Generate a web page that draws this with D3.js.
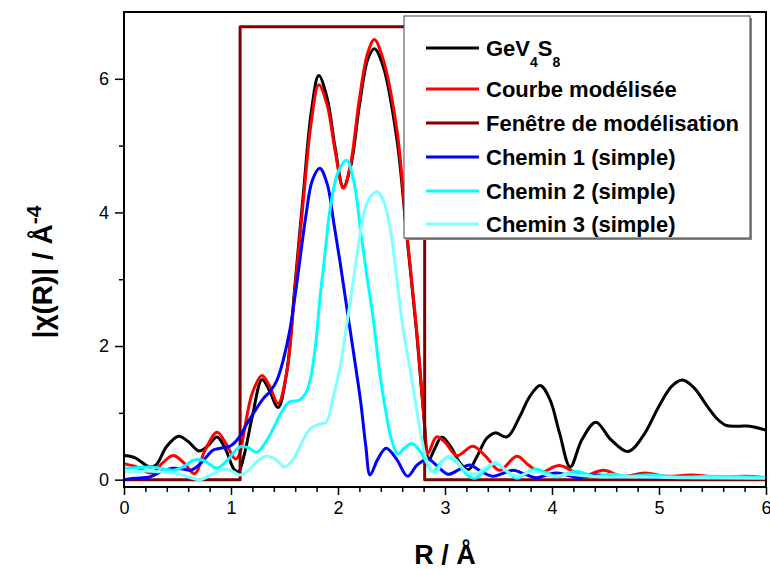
<!DOCTYPE html>
<html><head><meta charset="utf-8">
<script src="https://cdn.jsdelivr.net/npm/d3@7/dist/d3.min.js"></script>
<style>body{margin:0;background:#fff}text{font-family:"Liberation Sans",Arial,sans-serif}</style>
</head><body><svg id="c" width="770" height="572"></svg>
<script>
// ---- data ----
const xTickValues = [0, 1, 2, 3, 4, 5, 6];
const yTickValues = [0, 2, 4, 6];
const legendLabels = ["GeV4S8", "Courbe modélisée", "Fenêtre de modélisation", "Chemin 1 (simple)", "Chemin 2 (simple)", "Chemin 3 (simple)"];
const seriesColors = ["#000000", "#ff0000", "#800000", "#0000ff", "#00ffff", "#80ffff"];

const gevData = [[0,0.36],[0.1,0.33],[0.24,0.19],[0.3,0.22],[0.4,0.5],[0.51,0.65],[0.6,0.57],[0.7,0.43],[0.78,0.5],[0.87,0.64],[0.95,0.45],[1.03,0.15],[1.07,0.12],[1.12,0.35],[1.2,0.95],[1.29,1.5],[1.36,1.33],[1.44,1.08],[1.52,1.6],[1.6,2.95],[1.68,4.35],[1.75,5.5],[1.82,6.05],[1.9,5.7],[1.97,5.0],[2.05,4.38],[2.12,4.7],[2.2,5.6],[2.28,6.3],[2.34,6.45],[2.42,6.2],[2.55,5.1],[2.64,3.7],[2.735,2.2],[2.8,1.0],[2.85,0.3],[2.9,0.45],[2.97,0.64],[3.05,0.5],[3.14,0.25],[3.22,0.15],[3.3,0.35],[3.39,0.62],[3.47,0.7],[3.58,0.64],[3.7,0.95],[3.79,1.24],[3.89,1.41],[3.98,1.2],[4.07,0.7],[4.17,0.19],[4.28,0.6],[4.41,0.86],[4.55,0.6],[4.71,0.42],[4.85,0.65],[5.0,1.1],[5.12,1.4],[5.22,1.49],[5.33,1.37],[5.45,1.1],[5.55,0.9],[5.63,0.81],[5.75,0.8],[5.85,0.8],[6.0,0.74]];

const fitData = [[0,0.24],[0.1,0.2],[0.26,0.1],[0.36,0.25],[0.46,0.36],[0.56,0.25],[0.66,0.09],[0.76,0.45],[0.87,0.71],[0.96,0.52],[1.04,0.31],[1.08,0.38],[1.12,0.7],[1.2,1.3],[1.29,1.56],[1.36,1.4],[1.44,1.14],[1.52,1.6],[1.6,2.9],[1.68,4.25],[1.75,5.35],[1.82,5.91],[1.9,5.6],[1.97,4.95],[2.05,4.36],[2.12,4.75],[2.2,5.7],[2.28,6.4],[2.34,6.59],[2.42,6.3],[2.55,5.24],[2.64,3.74],[2.735,2.24],[2.8,1.0],[2.84,0.39],[2.92,0.64],[3.0,0.56],[3.11,0.36],[3.26,0.5],[3.38,0.35],[3.51,0.14],[3.67,0.35],[3.78,0.22],[3.89,0.11],[4.07,0.21],[4.29,0.06],[4.48,0.14],[4.66,0.05],[4.87,0.1],[5.07,0.05],[5.3,0.07],[5.55,0.04],[5.8,0.05],[6.0,0.03]];

const windowData = [[0,0],[1.085,0],[1.085,6.78],[2.81,6.78],[2.81,0],[6,0]];

const path1Data = [[0,0.0],[0.1,0.02],[0.24,0.04],[0.35,0.12],[0.46,0.17],[0.55,0.16],[0.62,0.14],[0.7,0.22],[0.77,0.34],[0.83,0.44],[0.9,0.47],[0.99,0.5],[1.07,0.62],[1.15,0.84],[1.22,1.02],[1.3,1.21],[1.37,1.33],[1.43,1.49],[1.49,1.8],[1.55,2.24],[1.62,3.0],[1.7,3.95],[1.76,4.48],[1.83,4.66],[1.9,4.42],[1.96,3.85],[2.02,3.25],[2.08,2.6],[2.15,1.85],[2.21,1.19],[2.26,0.5],[2.3,0.07],[2.37,0.3],[2.45,0.47],[2.55,0.3],[2.65,0.05],[2.74,0.22],[2.84,0.31],[2.93,0.2],[3.03,0.08],[3.13,0.15],[3.23,0.22],[3.34,0.12],[3.45,0.05],[3.55,0.1],[3.64,0.14],[3.75,0.08],[3.86,0.03],[3.95,0.07],[4.04,0.1],[4.14,0.07],[4.25,0.03],[4.34,0.05],[4.43,0.07],[4.6,0.04],[4.8,0.05],[5.0,0.03],[5.3,0.04],[5.6,0.02],[6.0,0.03]];

const path2Data = [[0,0.17],[0.12,0.18],[0.27,0.19],[0.37,0.16],[0.46,0.14],[0.56,0.2],[0.65,0.29],[0.74,0.29],[0.8,0.23],[0.87,0.17],[0.96,0.28],[1.05,0.45],[1.1,0.5],[1.17,0.47],[1.24,0.41],[1.32,0.55],[1.4,0.78],[1.47,1.0],[1.54,1.16],[1.64,1.19],[1.7,1.3],[1.74,1.49],[1.79,2.0],[1.83,2.69],[1.88,3.4],[1.925,4.04],[2.0,4.6],[2.08,4.78],[2.15,4.45],[2.21,3.74],[2.27,3.05],[2.33,2.4],[2.39,1.6],[2.45,0.99],[2.5,0.6],[2.56,0.38],[2.62,0.47],[2.69,0.54],[2.77,0.42],[2.83,0.25],[2.89,0.12],[2.96,0.25],[3.03,0.34],[3.12,0.25],[3.2,0.08],[3.28,0.02],[3.38,0.15],[3.47,0.25],[3.56,0.15],[3.67,0.02],[3.76,0.1],[3.85,0.16],[3.95,0.1],[4.05,0.04],[4.15,0.1],[4.25,0.12],[4.4,0.05],[4.55,0.08],[4.7,0.05],[4.9,0.07],[5.2,0.04],[5.5,0.05],[6.0,0.03]];

const path3Data = [[0,0.12],[0.1,0.12],[0.2,0.13],[0.3,0.12],[0.4,0.11],[0.5,0.09],[0.6,0.04],[0.71,0.0],[0.8,0.06],[0.9,0.14],[0.96,0.16],[1.02,0.12],[1.08,0.07],[1.15,0.12],[1.25,0.28],[1.33,0.35],[1.42,0.3],[1.5,0.19],[1.58,0.3],[1.66,0.55],[1.74,0.76],[1.82,0.83],[1.89,0.86],[1.95,1.2],[2.02,1.69],[2.08,2.3],[2.14,2.94],[2.2,3.6],[2.25,4.04],[2.31,4.25],[2.37,4.31],[2.43,4.15],[2.49,3.74],[2.55,3.0],[2.61,2.24],[2.68,1.6],[2.74,0.99],[2.79,0.55],[2.83,0.29],[2.91,0.1],[2.97,0.25],[3.03,0.35],[3.1,0.3],[3.18,0.15],[3.28,0.08],[3.38,0.18],[3.48,0.25],[3.58,0.12],[3.68,0.05],[3.8,0.12],[3.9,0.1],[4.0,0.05],[4.15,0.08],[4.3,0.06],[4.5,0.04],[4.8,0.04],[5.2,0.03],[6.0,0.02]];

const allSeries = [gevData, fitData, windowData, path1Data, path2Data, path3Data];

// ---- layout ----
const svg = d3.select("#c");
const L = 124, R = 766, T = 12, B = 487;
const x = d3.scaleLinear().domain([0, 6]).range([L, R]);
const y = d3.scaleLinear().domain([-0.11, 7.0]).range([B, T]);

svg.append("defs").append("clipPath").attr("id", "clip")
  .append("rect").attr("x", L).attr("y", T).attr("width", R - L).attr("height", B - T);

const plot = svg.append("g").attr("clip-path", "url(#clip)");
allSeries.forEach((d, i) => {
  const line = d3.line().x(p => x(p[0])).y(p => y(p[1]))
    .curve(i === 2 ? d3.curveLinear : d3.curveCatmullRom.alpha(0.5));
  plot.append("path").datum(d).attr("d", line)
    .attr("fill", "none").attr("stroke", seriesColors[i])
    .attr("stroke-width", 3).attr("stroke-linejoin", "round");
});

// axes
const xAxis = d3.axisBottom(x).tickValues(xTickValues).tickSize(8).tickPadding(6).tickFormat(d3.format("d"));
svg.append("g").attr("transform", `translate(0,${B})`).call(xAxis);
const xMinor = d3.axisBottom(x).tickValues(d3.range(0, 6.001, 0.2).filter(v => Math.abs(v - Math.round(v)) > 1e-6)).tickSize(5).tickFormat("");
svg.append("g").attr("transform", `translate(0,${B})`).call(xMinor);

const yAxis = d3.axisLeft(y).tickValues(yTickValues).tickSize(9).tickPadding(6).tickFormat(d3.format("d"));
svg.append("g").attr("transform", `translate(${L},0)`).call(yAxis);
const yMinor = d3.axisLeft(y).tickValues([1, 3, 5]).tickSize(5).tickFormat("");
svg.append("g").attr("transform", `translate(${L},0)`).call(yMinor);

svg.selectAll(".tick line").attr("stroke", "#000").attr("stroke-width", 1.5);
svg.selectAll(".domain").remove();
svg.selectAll(".tick text").attr("font-size", 18).attr("fill", "#000").style("font-family", "'Liberation Sans',Arial,sans-serif");

// frame
svg.append("rect").attr("x", L).attr("y", T).attr("width", R - L).attr("height", B - T)
  .attr("fill", "none").attr("stroke", "#000").attr("stroke-width", 2);

// axis titles
svg.append("text").attr("x", (L + R) / 2).attr("y", 564).attr("text-anchor", "middle")
  .attr("font-size", 27).attr("font-weight", "bold").text("R / Å");

const yt = svg.append("text").attr("transform", "translate(52,272) rotate(-90)")
  .attr("text-anchor", "middle").attr("font-size", 28).attr("font-weight", "bold");
yt.append("tspan").text("|χ(R)| / Å");
yt.append("tspan").attr("dy", -11).attr("font-size", 21).text("-4");

// legend
const lg = svg.append("g");
lg.append("rect").attr("x", 406).attr("y", 18).attr("width", 346).attr("height", 222).attr("fill", "#888");
lg.append("rect").attr("x", 404).attr("y", 16).attr("width", 346).attr("height", 222)
  .attr("fill", "#fff").attr("stroke", "#444").attr("stroke-width", 1);
const rowY = [48, 89, 123, 157, 191, 224];
legendLabels.forEach((lab, i) => {
  lg.append("line").attr("x1", 426).attr("x2", 479).attr("y1", rowY[i]).attr("y2", rowY[i])
    .attr("stroke", seriesColors[i]).attr("stroke-width", 3);
  const t = lg.append("text").attr("x", 486).attr("y", rowY[i] + 7.5)
    .attr("font-size", 22).attr("font-weight", "bold").attr("fill", "#000");
  if (i === 0) {
    t.append("tspan").text("GeV");
    t.append("tspan").attr("dy", 11).attr("font-size", 14).text("4");
    t.append("tspan").attr("dy", -11).text("S");
    t.append("tspan").attr("dy", 11).attr("font-size", 14).text("8");
  } else {
    t.text(lab);
  }
});
</script></body></html>
